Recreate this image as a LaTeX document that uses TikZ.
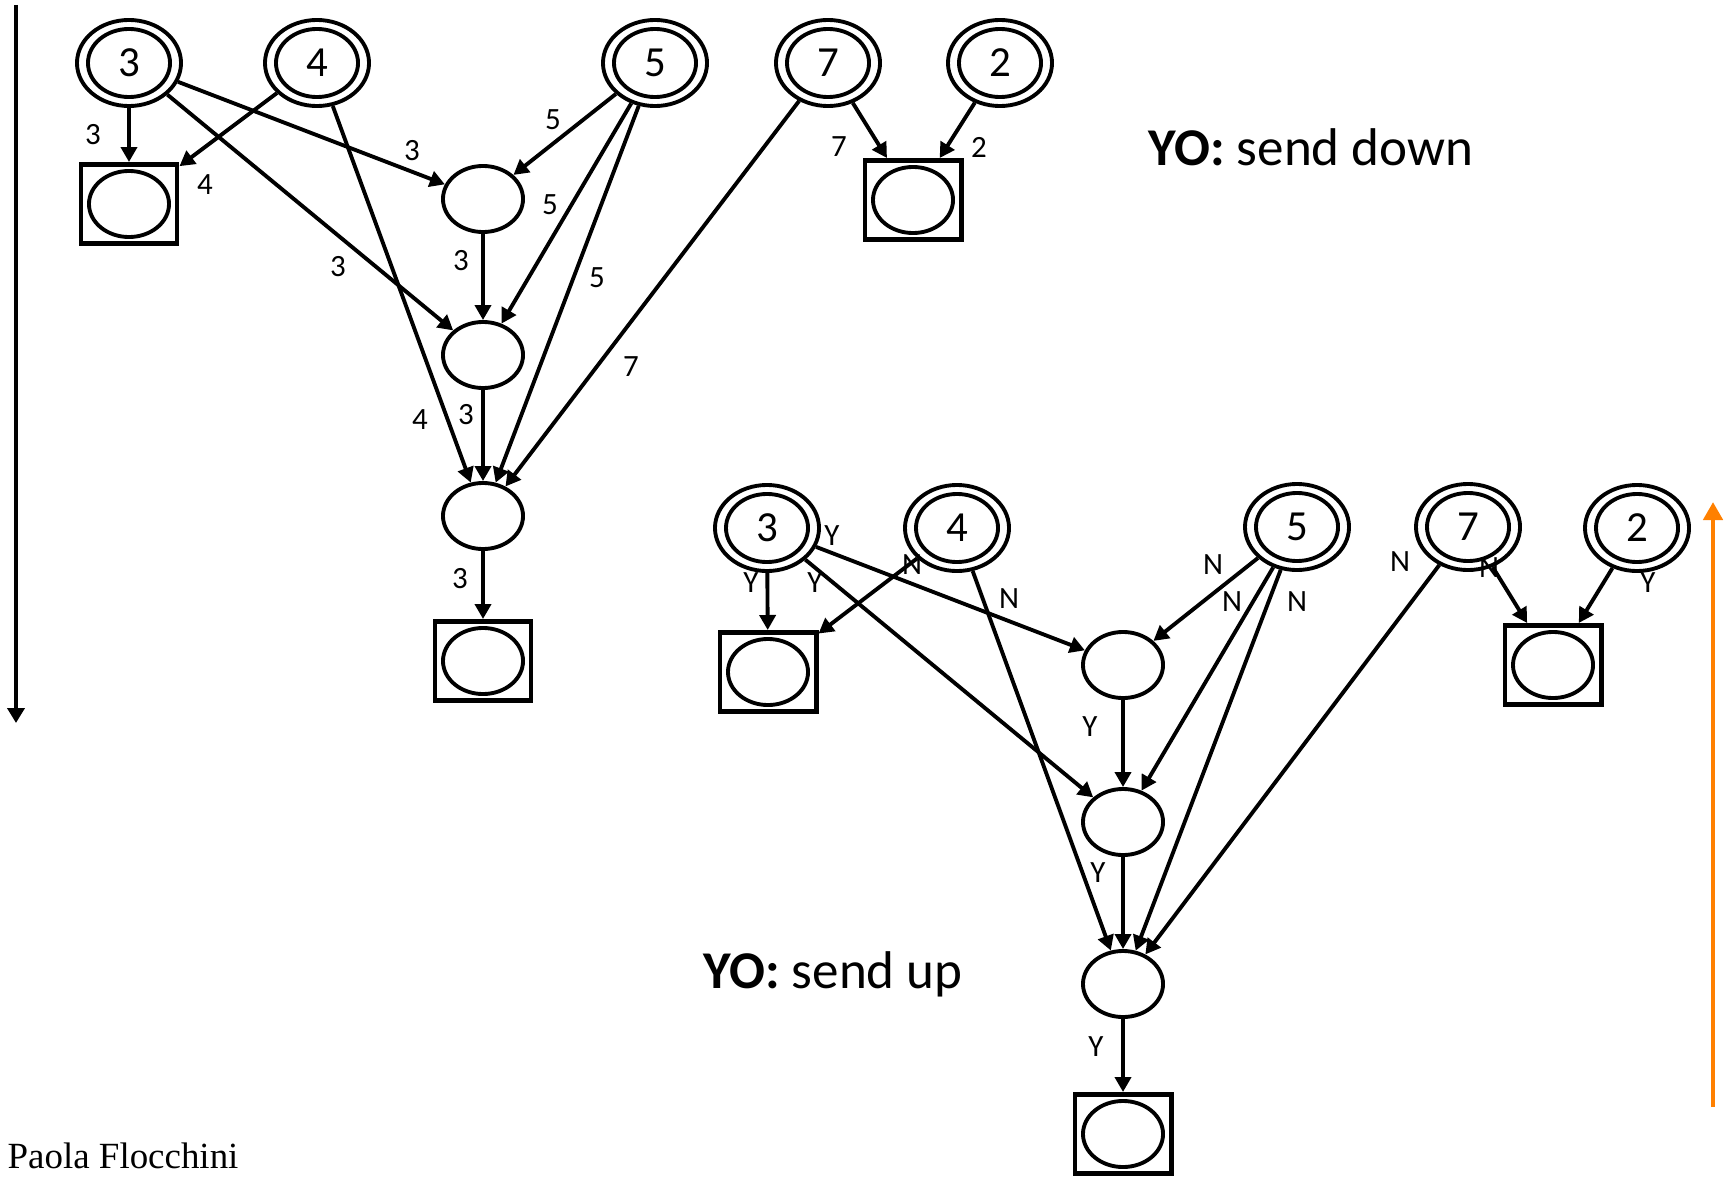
\documentclass[tikz,border=0pt]{standalone}
\usepackage{fontspec}
\setmainfont{Carlito}
\newfontfamily\authorfont{Liberation Serif}
\usetikzlibrary{arrows.meta,shapes.geometric}
\definecolor{uparrow}{RGB}{255,128,0}

\begin{document}
\begin{tikzpicture}[x=0.01cm,y=-0.01cm,
  edge/.style={line width=1.1pt,-{Triangle[length=0.15cm,width=0.16cm]}},
  src/.style={ellipse,draw,line width=1.1pt,minimum width=1.04cm,minimum height=0.86cm,
    inner sep=0pt,font=\fontsize{12.2}{14}\selectfont,
    path picture={\draw[line width=1.1pt] (path picture bounding box.center)
      ellipse [x radius=0.41cm,y radius=0.34cm];}},
  mid/.style={ellipse,draw,line width=1.1pt,minimum width=0.8cm,minimum height=0.66cm,inner sep=0pt},
  sink/.style={rectangle,draw,line width=1.4pt,minimum width=0.96cm,minimum height=0.79cm,
    inner sep=0pt,
    path picture={\draw[line width=1.1pt] (path picture bounding box.center)
      ellipse [x radius=0.40cm,y radius=0.33cm];}},
  lbl/.style={font=\fontsize{8.8}{10}\selectfont,inner sep=0pt},
  headline/.style={font=\fontsize{15.1}{18}\selectfont,anchor=base west,inner sep=0pt}]

\fill[white] (0,0) rectangle (1731,1176);
\path[use as bounding box] (0,0) rectangle (1731,1176);

% ---------- phase 1: values sent down ----------
\node[src] (t3) at (129,63) {3};
\node[src] (t4) at (317,63) {4};
\node[src] (t5) at (655,63) {5};
\node[src] (t7) at (828,63) {7};
\node[src] (t2) at (1000,63) {2};

\node[sink] (b3)  at (129,204) {};
\node[sink] (b72) at (913,200) {};
\node[mid]  (m1)  at (483,199) {};
\node[mid]  (m2)  at (483,355) {};
\node[mid]  (m3)  at (483,516) {};
\node[sink] (bb)  at (483,661) {};

\draw[edge] (t3) -- (b3);
\draw[edge] (t4) -- (b3);
\draw[edge] (t3) -- (m1);
\draw[edge] (t3) -- (m2);
\draw[edge] (t4) -- (m3);
\draw[edge] (t5) -- (m1);
\draw[edge] (t5) -- (m2);
\draw[edge] (t5) -- (m3);
\draw[edge] (t7) -- (m3);
\draw[edge] (m1) -- (m2);
\draw[edge] (m2) -- (m3);
\draw[edge] (m3) -- (bb);
\draw[edge] (t7) -- (b72);
\draw[edge] (t2) -- (b72);

\node[lbl] (d1)  at (93,135)  {3};
\node[lbl] (d2)  at (205,185) {4};
\node[lbl] (d3)  at (412,151) {3};
\node[lbl] (d4)  at (338,267) {3};
\node[lbl] (d5)  at (420,420) {4};
\node[lbl] (d6)  at (553,120) {5};
\node[lbl] (d7)  at (550,205) {5};
\node[lbl] (d8)  at (597,278) {5};
\node[lbl] (d9)  at (631,367) {7};
\node[lbl] (d10) at (461,261) {3};
\node[lbl] (d11) at (466,415) {3};
\node[lbl] (d12) at (460,579) {3};
\node[lbl] (d13) at (839,147) {7};
\node[lbl] (d14) at (979,147) {2};

\node[headline] (downtext) at (1148,166) {\textbf{YO:} send down};

% ---------- phase 2: answers sent up ----------
\node[src] (l3) at (767,528) {3};
\node[src] (l4) at (957,528) {4};
\node[src] (l5) at (1297,527) {5};
\node[src] (l7) at (1468,527) {7};
\node[src] (l2) at (1637,528) {2};

\node[sink] (lb3)  at (768,672) {};
\node[sink] (lb72) at (1553,665) {};
\node[mid]  (lm1)  at (1123,665) {};
\node[mid]  (lm2)  at (1123,822) {};
\node[mid]  (lm3)  at (1123,984) {};
\node[sink] (lbb)  at (1123,1134) {};

\draw[edge] (l3) -- (lb3);
\draw[edge] (l4) -- (lb3);
\draw[edge] (l3) -- (lm1);
\draw[edge] (l3) -- (lm2);
\draw[edge] (l4) -- (lm3);
\draw[edge] (l5) -- (lm1);
\draw[edge] (l5) -- (lm2);
\draw[edge] (l5) -- (lm3);
\draw[edge] (l7) -- (lm3);
\draw[edge] (lm1) -- (lm2);
\draw[edge] (lm2) -- (lm3);
\draw[edge] (lm3) -- (lbb);
\draw[edge] (l7) -- (lb72);
\draw[edge] (l2) -- (lb72);

\node[lbl] (u1)  at (751,583)  {Y};
\node[lbl] (u2)  at (832,536)  {Y};
\node[lbl] (u3)  at (815,583)  {Y};
\node[lbl] (u4)  at (912,565)  {N};
\node[lbl] (u5)  at (1009,599) {N};
\node[lbl] (u6)  at (1213,565) {N};
\node[lbl] (u7)  at (1232,602) {N};
\node[lbl] (u8)  at (1297,602) {N};
\node[lbl] (u9)  at (1400,562) {N};
\node[lbl] (u10) at (1489,568) {N};
\node[lbl] (u11) at (1648,583) {Y};
\node[lbl] (u12) at (1090,727) {Y};
\node[lbl] (u13) at (1098,873) {Y};
\node[lbl] (u14) at (1096,1047) {Y};

\node[headline] (uptext) at (703,988) {\textbf{YO:} send up};

% ---------- direction arrows ----------
\coordinate (dtop) at (16,5);
\coordinate (dbot) at (16,723);
\draw[line width=1.1pt,-{Triangle[length=0.15cm,width=0.17cm]}] (dtop) -- (dbot);

\coordinate (ubot) at (1713,1107);
\coordinate (utop) at (1713,502);
\draw[uparrow,line width=1.3pt,-{Triangle[length=0.18cm,width=0.19cm]}] (ubot) -- (utop);

\node[anchor=base west,inner sep=0pt,font=\authorfont\fontsize{10.5}{13}\selectfont] (author)
  at (7,1168) {Paola Flocchini};

\end{tikzpicture}
\end{document}
